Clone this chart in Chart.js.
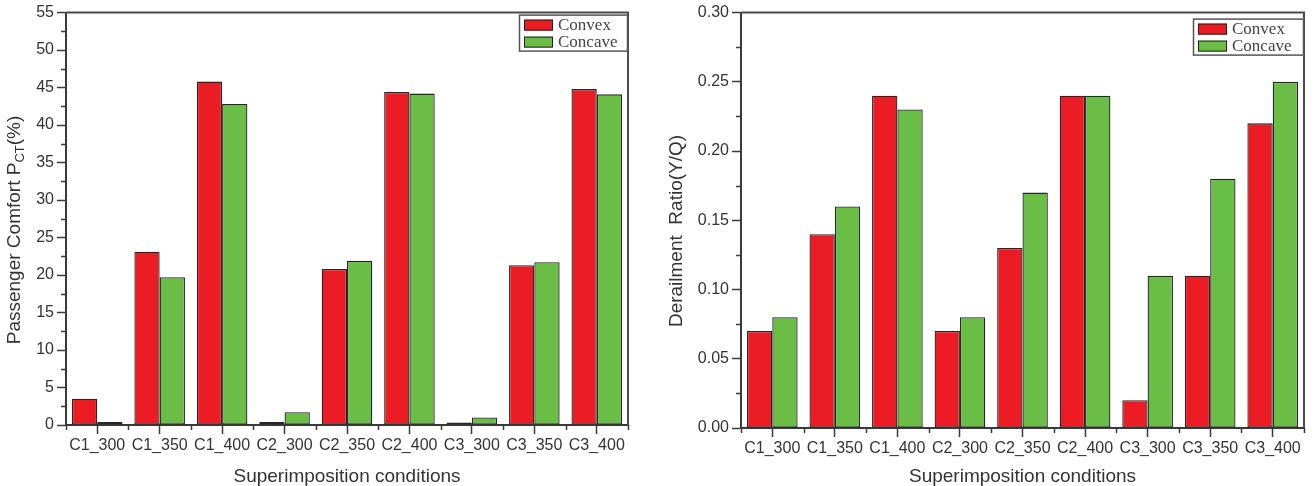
<!DOCTYPE html>
<html>
<head>
<meta charset="utf-8">
<script src="https://cdn.jsdelivr.net/npm/chart.js@4.4.1/dist/chart.umd.min.js"></script>
<style>
  html, body { margin: 0; padding: 0; background: #fff; }
  #wrap { position: relative; width: 1314px; height: 486px; }
  canvas { position: absolute; top: 0; }
</style>
</head>
<body>
<div id="wrap">
  <canvas id="comfort" width="657" height="486" style="left:0"></canvas>
  <canvas id="ratio" width="657" height="486" style="left:657px"></canvas>
</div>
<script>
const categories = ['C1_300', 'C1_350', 'C1_400', 'C2_300', 'C2_350', 'C2_400', 'C3_300', 'C3_350', 'C3_400'];
const seriesNames = ['Convex', 'Concave'];

const comfortConvex = [3.5, 23.1, 45.8, 0.4, 20.8, 44.4, 0.35, 21.3, 44.8];
const comfortConcave = [0.4, 19.7, 42.8, 1.7, 21.9, 44.2, 1.0, 21.7, 44.1];

const ratioConvex = [0.07, 0.14, 0.24, 0.07, 0.13, 0.24, 0.02, 0.11, 0.22];
const ratioConcave = [0.08, 0.16, 0.23, 0.08, 0.17, 0.24, 0.11, 0.18, 0.25];

const RED = '#EC1C24';
const GREEN = '#6ABD45';
const AXIS = '#3a3a3a';
const TEXT = '#333';
const SANS = "'Liberation Sans', Arial, sans-serif";

// frame, minor ticks, y title with subscript, boxed legend
const extras = {
  id: 'extras',
  afterDraw(chart, args, opts) {
    const ctx = chart.ctx;
    const a = chart.chartArea;
    const x = chart.scales.x, y = chart.scales.y;
    ctx.save();

    // top and right frame
    ctx.strokeStyle = '#4a4a4a';
    ctx.lineWidth = 2;
    ctx.beginPath();
    ctx.moveTo(a.left, a.top);
    ctx.lineTo(a.right, a.top);
    ctx.lineTo(a.right, a.bottom);
    ctx.stroke();

    // minor ticks
    ctx.strokeStyle = AXIS;
    ctx.lineWidth = 1.5;
    ctx.beginPath();
    const half = (x.getPixelForValue(1) - x.getPixelForValue(0)) / 2;
    for (let i = 0; i <= categories.length; i++) {
      const px = Math.round(x.getPixelForValue(i) - half) + 0.5;
      ctx.moveTo(px, a.bottom);
      ctx.lineTo(px, a.bottom + 5);
    }
    const step = opts.step;
    for (let v = step / 2; v < y.max; v += step) {
      const py = Math.round(y.getPixelForValue(v)) + 0.5;
      ctx.moveTo(a.left, py);
      ctx.lineTo(a.left - 5, py);
    }
    ctx.stroke();

    // y axis title
    ctx.fillStyle = TEXT;
    ctx.textBaseline = 'middle';
    ctx.textAlign = 'left';
    const parts = opts.title;
    let total = 0;
    parts.forEach(p => {
      ctx.font = (p.sub ? 13 : 19) + 'px ' + SANS;
      p.w = ctx.measureText(p.text).width;
      total += p.w;
    });
    ctx.translate(opts.titleX, opts.titleY);
    ctx.rotate(-Math.PI / 2);
    let cx = -total / 2;
    parts.forEach(p => {
      ctx.font = (p.sub ? 13 : 19) + 'px ' + SANS;
      ctx.fillText(p.text, cx, p.sub ? 5 : 0);
      cx += p.w;
    });
    ctx.setTransform(1, 0, 0, 1, 0, 0);

    // legend box
    const lg = opts.legend;
    const bx = a.right - lg.w, by = a.top + lg.top;
    ctx.fillStyle = '#fff';
    ctx.fillRect(bx, by, lg.w, 37);
    ctx.strokeStyle = '#555';
    ctx.lineWidth = 1.5;
    ctx.strokeRect(bx + 0.5, by + 0.5, lg.w - 1, 36);
    chart.data.datasets.forEach((ds, i) => {
      const sy = by + 5 + i * 17;
      ctx.fillStyle = ds.backgroundColor;
      ctx.fillRect(bx + 5, sy, 29, 11);
      ctx.strokeStyle = '#222';
      ctx.lineWidth = 1;
      ctx.strokeRect(bx + 5.5, sy + 0.5, 28, 10);
      ctx.fillStyle = '#444';
      ctx.font = "17px 'Liberation Serif', 'Times New Roman', serif";
      ctx.textBaseline = 'middle';
      ctx.fillText(ds.label, bx + 39, sy + 6);
    });
    ctx.restore();
  }
};

function makeChart(id, convex, concave, cfg) {
  const bar = { borderColor: '#262626', borderWidth: 1.3, borderSkipped: false, categoryPercentage: 0.81, barPercentage: 1.0 };
  return new Chart(document.getElementById(id), {
    type: 'bar',
    data: {
      labels: categories,
      datasets: [
        { ...bar, label: seriesNames[0], data: convex, backgroundColor: RED },
        { ...bar, label: seriesNames[1], data: concave, backgroundColor: GREEN }
      ]
    },
    options: {
      responsive: false,
      animation: false,
      devicePixelRatio: 1,
      layout: { padding: { top: 7, right: cfg.padRight, left: 0, bottom: 0 } },
      plugins: {
        legend: { display: false },
        tooltip: { enabled: false },
        extras: { step: cfg.step, title: cfg.title, titleX: cfg.titleX, titleY: cfg.titleY, legend: cfg.legend }
      },
      scales: {
        x: {
          offset: true,
          grid: { offset: false, drawOnChartArea: false, tickLength: 9, tickColor: AXIS, tickWidth: 1.5 },
          border: { color: AXIS, width: 2 },
          ticks: { color: TEXT, font: { family: SANS, size: 16 }, padding: 2, maxRotation: 0, autoSkip: false },
          title: { display: true, text: 'Superimposition conditions', color: TEXT, font: { family: SANS, size: 19, lineHeight: 1 }, padding: 0 },
          afterFit: s => { s.height = cfg.xHeight; }
        },
        y: {
          min: 0,
          max: cfg.max,
          grid: { drawOnChartArea: false, tickLength: 9, tickColor: AXIS, tickWidth: 1.5 },
          border: { color: AXIS, width: 2 },
          ticks: { stepSize: cfg.step, color: TEXT, font: { family: SANS, size: 16 }, padding: 3, callback: cfg.fmt },
          afterFit: s => { s.width = cfg.yWidth; }
        }
      }
    },
    plugins: [extras]
  });
}

makeChart('comfort', comfortConvex, comfortConcave, {
  max: 55, step: 5, fmt: v => String(v),
  padRight: 29, xHeight: 61, yWidth: 66,
  title: [{ text: 'Passenger Comfort P' }, { text: 'CT', sub: true }, { text: '(%)' }],
  titleX: 15, titleY: 230,
  legend: { w: 109, top: 2 }
});

makeChart('ratio', ratioConvex, ratioConcave, {
  max: 0.3, step: 0.05, fmt: v => v.toFixed(2),
  padRight: 10, xHeight: 58, yWidth: 84,
  title: [{ text: 'Derailment  Ratio(Y/Q)' }],
  titleX: 20, titleY: 231,
  legend: { w: 111, top: 6 }
});
</script>
</body>
</html>
